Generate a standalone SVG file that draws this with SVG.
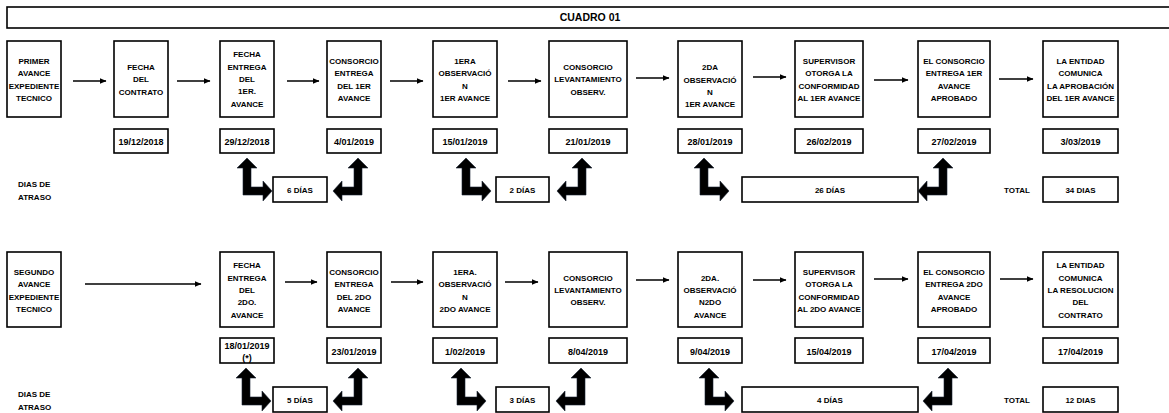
<svg xmlns="http://www.w3.org/2000/svg" width="1169" height="413" viewBox="0 0 1169 413">
<style>
text{font-family:"Liberation Sans",Arial,sans-serif;font-weight:bold;font-size:8px;fill:#000;text-anchor:middle}
.box{fill:#fff;stroke:#000;stroke-width:1.6}
.date{font-size:9px}
.title{font-size:10.5px}
.lbl{text-anchor:start}
.flow{stroke:#000;stroke-width:1.5;fill:none;marker-end:url(#ah)}
.bent{fill:#000;stroke:#1a2433;stroke-width:0.6}
</style>
<defs>
<marker id="ah" markerUnits="userSpaceOnUse" markerWidth="7" markerHeight="6" refX="6.5" refY="3" orient="auto"><path d="M0,0 L7,3 L0,6 Z" fill="#000"/></marker>
<path id="bA" d="M0,0 L10,10 L4,10 L4,29 L16,29 L16,23 L25,33 L16,43 L16,37 L-4,37 L-4,10 L-10,10 Z"/>
<path id="bB" d="M0,0 L10,10 L4,10 L4,37 L-16,37 L-16,43 L-25,33 L-16,23 L-16,29 L-4,29 L-4,10 L-10,10 Z"/>
</defs>
<rect width="1169" height="413" fill="#fff"/>
<g id="title"><rect class="box" x="7" y="7" width="1170" height="21"/><text class="title" x="590" y="21">CUADRO 01</text></g>

<!-- Row 1 -->
<g id="r1n1"><rect class="box" x="7" y="41" width="54" height="76"/><text x="34" y="64">PRIMER</text><text x="34" y="76">AVANCE</text><text x="34" y="88.5">EXPEDIENTE</text><text x="34" y="101">TECNICO</text></g>
<g id="r1n2"><rect class="box" x="114" y="41" width="54" height="76"/><text x="141" y="70">FECHA</text><text x="141" y="82">DEL</text><text x="141" y="95">CONTRATO</text></g>
<g id="r1n3"><rect class="box" x="220" y="41" width="54" height="76"/><text x="247" y="57">FECHA</text><text x="247" y="70">ENTREGA</text><text x="247" y="82">DEL</text><text x="247" y="94">1ER.</text><text x="247" y="107">AVANCE</text></g>
<g id="r1n4"><rect class="box" x="327" y="41" width="54" height="76"/><text x="354" y="64">CONSORCIO</text><text x="354" y="76">ENTREGA</text><text x="354" y="88.5">DEL 1ER</text><text x="354" y="101">AVANCE</text></g>
<g id="r1n5"><rect class="box" x="433" y="41" width="64" height="76"/><text x="465" y="64">1ERA</text><text x="465" y="76">OBSERVACIÓ</text><text x="465" y="88.5">N</text><text x="465" y="101">1ER AVANCE</text></g>
<g id="r1n6"><rect class="box" x="549" y="41" width="78" height="76"/><text x="588" y="70">CONSORCIO</text><text x="588" y="82">LEVANTAMIENTO</text><text x="588" y="95">OBSERV.</text></g>
<g id="r1n7"><rect class="box" x="678" y="41" width="64" height="76"/><text x="710" y="70">2DA</text><text x="710" y="83">OBSERVACIÓ</text><text x="710" y="95">N</text><text x="710" y="107">1ER AVANCE</text></g>
<g id="r1n8"><rect class="box" x="795" y="41" width="68" height="76"/><text x="829" y="64">SUPERVISOR</text><text x="829" y="76">OTORGA LA</text><text x="829" y="88.5">CONFORMIDAD</text><text x="829" y="101">AL 1ER AVANCE</text></g>
<g id="r1n9"><rect class="box" x="918" y="41" width="72" height="76"/><text x="954" y="64">EL CONSORCIO</text><text x="954" y="76">ENTREGA 1ER</text><text x="954" y="88.5">AVANCE</text><text x="954" y="101">APROBADO</text></g>
<g id="r1n10"><rect class="box" x="1043" y="41" width="75" height="76"/><text x="1080.5" y="64">LA ENTIDAD</text><text x="1080.5" y="76">COMUNICA</text><text x="1080.5" y="88.5">LA APROBACIÓN</text><text x="1080.5" y="101">DEL 1ER AVANCE</text></g>

<g id="r1d2"><rect class="box" x="114" y="129" width="54" height="24"/><text class="date" x="141" y="144.5">19/12/2018</text></g>
<g id="r1d3"><rect class="box" x="220" y="129" width="54" height="24"/><text class="date" x="247" y="144.5">29/12/2018</text></g>
<g id="r1d4"><rect class="box" x="327" y="129" width="54" height="24"/><text class="date" x="354" y="144.5">4/01/2019</text></g>
<g id="r1d5"><rect class="box" x="433" y="129" width="64" height="24"/><text class="date" x="465" y="144.5">15/01/2019</text></g>
<g id="r1d6"><rect class="box" x="549" y="129" width="78" height="24"/><text class="date" x="588" y="144.5">21/01/2019</text></g>
<g id="r1d7"><rect class="box" x="678" y="129" width="64" height="24"/><text class="date" x="710" y="144.5">28/01/2019</text></g>
<g id="r1d8"><rect class="box" x="795" y="129" width="68" height="24"/><text class="date" x="829" y="144.5">26/02/2019</text></g>
<g id="r1d9"><rect class="box" x="918" y="129" width="72" height="24"/><text class="date" x="954" y="144.5">27/02/2019</text></g>
<g id="r1d10"><rect class="box" x="1043" y="129" width="75" height="24"/><text class="date" x="1080.5" y="144.5">3/03/2019</text></g>

<g id="r1atraso"><text class="lbl" x="18" y="187">DIAS DE</text><text class="lbl" x="18" y="200">ATRASO</text></g>
<g id="r1k1"><rect class="box" x="273" y="177" width="54" height="25"/><text x="300" y="193">6 DÍAS</text></g>
<g id="r1k2"><rect class="box" x="496" y="177" width="53" height="25"/><text x="522.5" y="193">2 DÍAS</text></g>
<g id="r1k3"><rect class="box" x="742" y="177" width="176" height="25"/><text x="830" y="193">26 DÍAS</text></g>
<g id="r1total"><text x="1017" y="193">TOTAL</text></g>
<g id="r1k4"><rect class="box" x="1043" y="177" width="75" height="25"/><text x="1080.5" y="193">34 DIAS</text></g>

<!-- Row 2 -->
<g id="r2n1"><rect class="box" x="7" y="252" width="54" height="75"/><text x="34" y="275">SEGUNDO</text><text x="34" y="287">AVANCE</text><text x="34" y="299.5">EXPEDIENTE</text><text x="34" y="311.5">TECNICO</text></g>
<g id="r2n2"><rect class="box" x="220" y="252" width="54" height="75"/><text x="247" y="268">FECHA</text><text x="247" y="281">ENTREGA</text><text x="247" y="293">DEL</text><text x="247" y="305">2DO.</text><text x="247" y="318">AVANCE</text></g>
<g id="r2n3"><rect class="box" x="327" y="252" width="54" height="75"/><text x="354" y="275">CONSORCIO</text><text x="354" y="287">ENTREGA</text><text x="354" y="300">DEL 2DO</text><text x="354" y="311.5">AVANCE</text></g>
<g id="r2n4"><rect class="box" x="433" y="252" width="64" height="75"/><text x="465" y="275">1ERA.</text><text x="465" y="287">OBSERVACIÓ</text><text x="465" y="300">N</text><text x="465" y="311.5">2DO AVANCE</text></g>
<g id="r2n5"><rect class="box" x="549" y="252" width="78" height="75"/><text x="588" y="281">CONSORCIO</text><text x="588" y="293">LEVANTAMIENTO</text><text x="588" y="305">OBSERV.</text></g>
<g id="r2n6"><rect class="box" x="678" y="252" width="64" height="75"/><text x="710" y="281">2DA.</text><text x="710" y="293">OBSERVACIÓ</text><text x="710" y="305">N2DO</text><text x="710" y="317.5">AVANCE</text></g>
<g id="r2n7"><rect class="box" x="795" y="252" width="68" height="75"/><text x="829" y="275">SUPERVISOR</text><text x="829" y="287">OTORGA LA</text><text x="829" y="300">CONFORMIDAD</text><text x="829" y="311.5">AL 2DO AVANCE</text></g>
<g id="r2n8"><rect class="box" x="918" y="252" width="72" height="75"/><text x="954" y="275">EL CONSORCIO</text><text x="954" y="287">ENTREGA 2DO</text><text x="954" y="300">AVANCE</text><text x="954" y="311.5">APROBADO</text></g>
<g id="r2n9"><rect class="box" x="1043" y="252" width="75" height="75"/><text x="1080.5" y="268">LA ENTIDAD</text><text x="1080.5" y="281">COMUNICA</text><text x="1080.5" y="293">LA RESOLUCION</text><text x="1080.5" y="305">DEL</text><text x="1080.5" y="318">CONTRATO</text></g>

<g id="r2d2"><rect class="box" x="220" y="338" width="54" height="25"/><text class="date" x="247" y="349">18/01/2019</text><text class="date" x="247" y="361">(*)</text></g>
<g id="r2d3"><rect class="box" x="327" y="338" width="54" height="25"/><text class="date" x="354" y="355">23/01/2019</text></g>
<g id="r2d4"><rect class="box" x="433" y="338" width="64" height="25"/><text class="date" x="465" y="355">1/02/2019</text></g>
<g id="r2d5"><rect class="box" x="549" y="338" width="78" height="25"/><text class="date" x="588" y="355">8/04/2019</text></g>
<g id="r2d6"><rect class="box" x="678" y="338" width="64" height="25"/><text class="date" x="710" y="355">9/04/2019</text></g>
<g id="r2d7"><rect class="box" x="795" y="338" width="68" height="25"/><text class="date" x="829" y="355">15/04/2019</text></g>
<g id="r2d8"><rect class="box" x="918" y="338" width="72" height="25"/><text class="date" x="954" y="355">17/04/2019</text></g>
<g id="r2d9"><rect class="box" x="1043" y="338" width="75" height="25"/><text class="date" x="1080.5" y="355">17/04/2019</text></g>

<g id="r2atraso"><text class="lbl" x="18" y="397">DIAS DE</text><text class="lbl" x="18" y="410">ATRASO</text></g>
<g id="r2k1"><rect class="box" x="273" y="387" width="54" height="25"/><text x="300" y="403">5 DÍAS</text></g>
<g id="r2k2"><rect class="box" x="496" y="387" width="53" height="25"/><text x="522.5" y="403">3 DÍAS</text></g>
<g id="r2k3"><rect class="box" x="742" y="387" width="176" height="25"/><text x="830" y="403">4 DÍAS</text></g>
<g id="r2total"><text x="1017" y="403">TOTAL</text></g>
<g id="r2k4"><rect class="box" x="1043" y="387" width="75" height="25"/><text x="1080.5" y="403">12 DIAS</text></g>

<g id="connectors">
<line class="flow" x1="73" y1="81" x2="106" y2="81"/>
<line class="flow" x1="177" y1="81" x2="210" y2="81"/>
<line class="flow" x1="287" y1="81" x2="319" y2="81"/>
<line class="flow" x1="390" y1="81" x2="423" y2="81"/>
<line class="flow" x1="508" y1="81" x2="541" y2="81"/>
<line class="flow" x1="636" y1="78" x2="669" y2="78"/>
<line class="flow" x1="753" y1="77" x2="786" y2="77"/>
<line class="flow" x1="874" y1="80" x2="908" y2="80"/>
<line class="flow" x1="999" y1="79" x2="1033" y2="79"/>

<line class="flow" x1="85" y1="284" x2="201" y2="284"/>
<line class="flow" x1="285" y1="282" x2="317" y2="282"/>
<line class="flow" x1="391" y1="282" x2="423" y2="282"/>
<line class="flow" x1="505" y1="282" x2="538" y2="282"/>
<line class="flow" x1="636" y1="280" x2="669" y2="280"/>
<line class="flow" x1="753" y1="280" x2="786" y2="280"/>
<line class="flow" x1="874" y1="279" x2="908" y2="279"/>
<line class="flow" x1="1000" y1="279" x2="1033" y2="279"/>

<use href="#bA" class="bent" x="247" y="158"/>
<use href="#bB" class="bent" x="358" y="158"/>
<use href="#bA" class="bent" x="466" y="158"/>
<use href="#bB" class="bent" x="582" y="158"/>
<use href="#bA" class="bent" x="704" y="158"/>
<use href="#bB" class="bent" x="943" y="158"/>

<use href="#bA" class="bent" x="246" y="368"/>
<use href="#bB" class="bent" x="358" y="368"/>
<use href="#bA" class="bent" x="461" y="368"/>
<use href="#bB" class="bent" x="581" y="368"/>
<use href="#bA" class="bent" x="709" y="368"/>
<use href="#bB" class="bent" x="948" y="368"/>
</g>
</svg>
